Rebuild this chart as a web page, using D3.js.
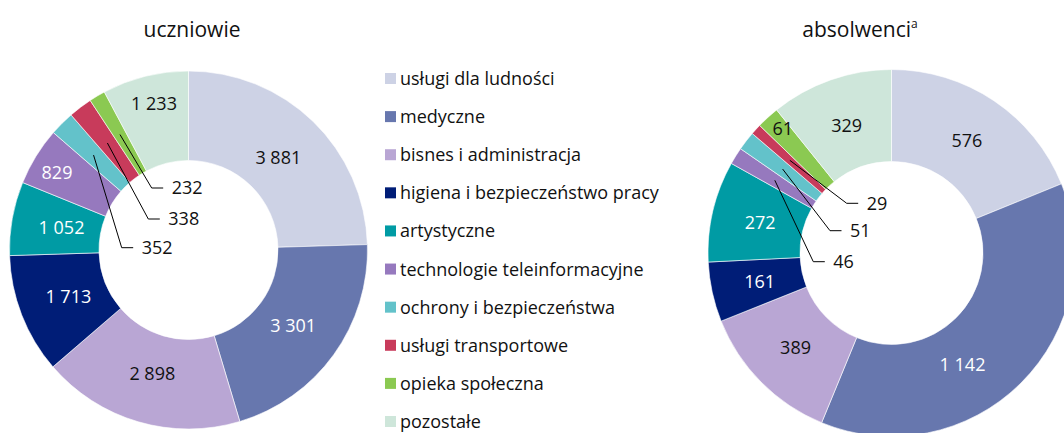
<!DOCTYPE html>
<html>
<head>
<meta charset="utf-8">
<script src="https://cdn.jsdelivr.net/npm/d3@7"></script>
<style>
  html, body { margin: 0; padding: 0; background: #fff; }
  svg { display: block; font-family: "Open Sans", "Noto Sans", sans-serif; }
</style>
</head>
<body>
<svg id="chart" width="1064" height="433"></svg>
<script>
// ---- data ----
const categories = [
  "usługi dla ludności",
  "medyczne",
  "bisnes i administracja",
  "higiena i bezpieczeństwo pracy",
  "artystyczne",
  "technologie teleinformacyjne",
  "ochrony i bezpieczeństwa",
  "usługi transportowe",
  "opieka społeczna",
  "pozostałe"
];
const uczniowie  = [3881, 3301, 2898, 1713, 1052, 829, 352, 338, 232, 1233];
const absolwenci = [576, 1142, 389, 161, 272, 46, 51, 29, 61, 329];
const titles = ["uczniowie", "absolwenci"];

// ---- styles ----
const colors = ["#CDD2E5", "#6777AE", "#B9A6D4", "#001D77", "#009BA4",
                "#9679BE", "#63C2CA", "#C83B5B", "#8BC952", "#CEE6DA"];
const whiteLabel = [false, true, false, true, true, true, false, false, false, false];
const fmt = v => d3.format(",")(v).replace(/,/g, " ");

const svg = d3.select("#chart");

// layout of the two doughnuts
const charts = [
  { title: titles[0], values: uczniowie, cx: 188.5, cy: 250, ri: 89.5, ro: 179, lr: 129, tx: 192,
    callouts: { 6: [-66.8, -2.3], 7: [-40.2, -31], 8: [-36.8, -62] },
    labelPos: { 5: [-131.5, -77], 9: [-34.5, -146] } },
  { title: titles[1], values: absolwenci, cx: 891.5, cy: 253, ri: 91.5, ro: 183.5, lr: 135, tx: 860, sup: "a",
    callouts: { 5: [-78.2, 8.7], 6: [-61.5, -22.3], 7: [-44.8, -49.7] },
    labelPos: { 1: [71, 112], 8: [-108.8, -124] } }
];

const pie = d3.pie().sort(null).value(d => d);

charts.forEach(c => {
  const g = svg.append("g").attr("transform", `translate(${c.cx},${c.cy})`);
  const arc = d3.arc().innerRadius(c.ri).outerRadius(c.ro);
  const arcs = pie(c.values);

  g.selectAll("path.slice").data(arcs).join("path")
    .attr("class", "slice")
    .attr("d", arc)
    .attr("fill", (d, i) => colors[i])
    .attr("stroke", "#fff")
    .attr("stroke-width", 0.6);

  const midR = (c.ri + c.ro) / 2;
  arcs.forEach((d, i) => {
    const a = (d.startAngle + d.endAngle) / 2;
    if (c.callouts[i]) {
      const sx = midR * Math.sin(a), sy = -midR * Math.cos(a);
      const [ex, ey] = c.callouts[i];
      g.append("polyline")
        .attr("points", `${sx},${sy} ${ex},${ey} ${ex + 11.5},${ey}`)
        .attr("fill", "none").attr("stroke", "#000").attr("stroke-width", 1);
      g.append("text")
        .attr("x", ex + 20).attr("y", ey).attr("dy", "0.36em")
        .attr("font-size", 18).attr("fill", "#111")
        .text(fmt(d.data));
    } else {
      let x, y;
      if (c.labelPos[i]) { [x, y] = c.labelPos[i]; }
      else { x = c.lr * Math.sin(a); y = -c.lr * Math.cos(a); }
      g.append("text")
        .attr("x", x).attr("y", y).attr("dy", "0.36em")
        .attr("text-anchor", "middle")
        .attr("font-size", 18)
        .attr("fill", whiteLabel[i] ? "#fff" : "#111")
        .text(fmt(d.data));
    }
  });

  const t = svg.append("text")
    .attr("x", c.tx).attr("y", 37)
    .attr("text-anchor", "middle")
    .attr("font-size", 21).attr("fill", "#111")
    .text(c.title);
  if (c.sup) {
    t.append("tspan").attr("font-size", 12).attr("dy", -9).text(c.sup);
  }
});

// legend
const legend = svg.append("g");
const rowY = d3.scalePoint().domain(categories).range([78.5, 421.5]);
categories.forEach((name, i) => {
  const y = rowY(name);
  legend.append("rect")
    .attr("x", 385).attr("y", y - 5.5).attr("width", 11).attr("height", 11)
    .attr("fill", colors[i]);
  legend.append("text")
    .attr("x", 400).attr("y", y).attr("dy", "0.36em")
    .attr("font-size", 18).attr("fill", "#111")
    .text(name);
});
</script>
</body>
</html>
